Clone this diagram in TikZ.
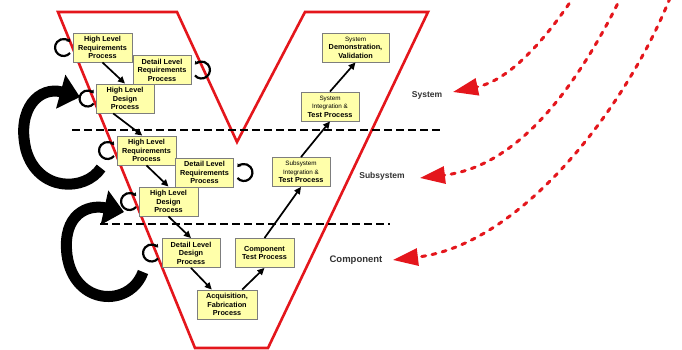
\documentclass[tikz,border=0pt]{standalone}
\usepackage{fontspec}
\setmainfont{Liberation Sans}
\usetikzlibrary{arrows.meta,calc}
\definecolor{vred}{RGB}{228,22,28}
\definecolor{boxfill}{RGB}{255,255,170}
\definecolor{boxline}{RGB}{125,125,125}
\definecolor{lvl}{RGB}{50,50,50}
\newcommand\lightword[1]{{\fontsize{6.3}{7}\selectfont\mdseries #1}}
\begin{document}
\begin{tikzpicture}[x=1pt,y=-1pt,
  proc/.style={draw=boxline, fill=boxfill, line width=0.9pt, minimum width=58pt,
    minimum height=29pt, inner sep=0.5pt, align=center,
    font=\fontsize{7.3}{8.6}\selectfont\bfseries},
  flow/.style={draw=black, line width=1.7pt, -{Triangle[length=7pt,width=6.5pt]}},
  selfloop/.style={draw=black, line width=2.2pt, -{Triangle[length=3pt,width=4.5pt]}},
  bigarrow/.style={draw=black, line width=11pt, line cap=butt, -{Triangle[length=20pt,width=34pt]}},
  trace/.style={draw=vred, line width=3pt, dash pattern=on 4pt off 6.5pt, line cap=round,
    -{Triangle[length=25pt,width=17pt]}},
  level/.style={inner sep=0pt, font=\fontsize{8.5}{10}\selectfont\bfseries, text=lvl},
  divider/.style={draw=black, line width=2.6pt, dash pattern=on 8pt off 4pt}
]
\clip (0,0) rectangle (682,350);

% the V outline
\draw[vred, line width=2.6pt, line join=miter]
  (58,12) -- (177,12) -- (237,142) -- (305,12) -- (428,12) -- (268,348) -- (195,348) -- cycle;

% level dividers
\draw[divider] (72,130) -- (442,130);
\draw[divider] (100,224) -- (390,224);

% process boxes
\node[proc, minimum width=59pt] (hlr)  at (102.5,47.5) {High Level\\Requirements\\Process};
\node[proc] (dlr)  at (162,70)    {Detail Level\\Requirements\\Process};
\node[proc] (hld)  at (125,98.5)  {High Level\\Design\\Process};
\node[proc, minimum width=59pt] (shlr) at (146.5,150.5) {High Level\\Requirements\\Process};
\node[proc] (sdlr) at (204.5,172.5) {Detail Level\\Requirements\\Process};
\node[proc, minimum width=59pt] (shld) at (168.5,201.5) {High Level\\Design\\Process};
\node[proc] (ddd)  at (191,253)   {Detail Level\\Design\\Process};
\node[proc, minimum width=60pt] (afp)  at (227,304.5) {Acquisition,\\Fabrication\\Process};
\node[proc, minimum width=59pt] (ctp)  at (264.5,253) {Component\\Test Process};
\node[proc] (sit)  at (301,172)   {\lightword{Subsystem}\\\lightword{Integration \&}\\Test Process};
\node[proc] (syit) at (330,106.5) {\lightword{System}\\\lightword{Integration \&}\\Test Process};
\node[proc, minimum width=67pt] (sdv)  at (355.5,47.5) {\lightword{System}\\Demonstration,\\Validation};

% flow between processes
\draw[flow] (hlr.south) -- (hld.north);
\draw[flow] ($(hld.south west)!0.3!(hld.south east)$) -- ($(shlr.north west)!0.43!(shlr.north east)$);
\draw[flow] (shlr.south) -- (shld.north);
\draw[flow] (shld.south) -- (ddd.north);
\draw[flow] (ddd.south) -- ($(afp.north west)!0.25!(afp.north east)$);
\draw[flow] ($(afp.north west)!0.75!(afp.north east)$) -- (ctp.south);
\draw[flow] (ctp.north) -- (sit.south);
\draw[flow] (sit.north) -- (syit.south);
\draw[flow] (syit.north) -- (sdv.south);

% iteration loops beside the boxes
\draw[selfloop] ($(hlr.west)+(-9,0)$)  ++(40:8.5)  arc (40:320:8.5);
\draw[selfloop] ($(dlr.east)+(10,0)$)  ++(140:8.5) arc (140:-140:8.5);
\draw[selfloop] ($(hld.west)+(-8,0)$)  ++(40:8)    arc (40:320:8);
\draw[selfloop] ($(shlr.west)+(-9,0)$) ++(40:8.5)  arc (40:320:8.5);
\draw[selfloop] ($(sdlr.east)+(10,0)$) ++(140:8.5) arc (140:-140:8.5);
\draw[selfloop] ($(shld.west)+(-9,0)$) ++(40:8.5)  arc (40:320:8.5);
\draw[selfloop] ($(ddd.west)+(-10,0)$) ++(40:8.5)  arc (40:320:8.5);

% large return arrows
\coordinate (ra1) at (101,168);
\coordinate (rb1) at (80,97);
\draw[bigarrow] (ra1) .. controls (85,192) and (38,192) .. (26,150)
  .. controls (16,108) and (40,86) .. (rb1);
\coordinate (ra2) at (143,272);
\coordinate (rb2) at (124,212);
\draw[bigarrow] (ra2) .. controls (130,308) and (74,306) .. (67,255)
  .. controls (62,214) and (88,204) .. (rb2);

% level labels
\node[level] (lsys)  at (427,95)  {System};
\node[level] (lsub)  at (382,176) {Subsystem};
\node[level, font=\fontsize{9.5}{11}\selectfont\bfseries] (lcomp) at (356,260) {Component};

% traces into the levels
\coordinate (s1) at (575,-5);
\coordinate (e1) at (453,92);
\coordinate (s2) at (622,-5);
\coordinate (e2) at (420,178);
\coordinate (s3) at (670,-2);
\coordinate (e3) at (393,260);
\draw[trace] (s1) .. controls (545,40) and (510,80) .. (e1);
\draw[trace] (s2) .. controls (590,60) and (530,165) .. (e2);
\draw[trace] (s3) .. controls (625,110) and (520,245) .. (e3);
\end{tikzpicture}
\end{document}
